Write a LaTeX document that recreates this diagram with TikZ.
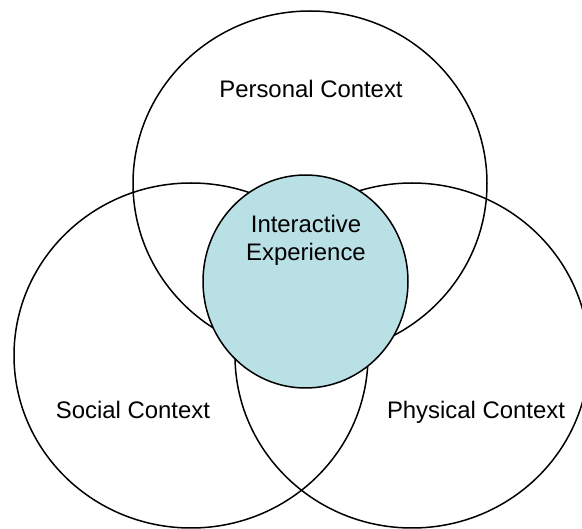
\documentclass[tikz,border=0pt]{standalone}
\usepackage{fontspec}
\setmainfont{Liberation Sans}
\usetikzlibrary{shapes.geometric}
\definecolor{tealfill}{RGB}{185,224,228}
\tikzset{
  ctx/.style={draw=black, line width=1.5pt, ellipse, inner sep=0pt, outer sep=0pt,
              minimum width=354pt, minimum height=345pt},
  core/.style={draw=black, line width=1.5pt, ellipse, inner sep=0pt, outer sep=0pt,
              fill=tealfill, minimum width=205pt, minimum height=213pt},
  lbl/.style={font=\fontsize{23.9}{27.3}\selectfont, inner sep=0pt, anchor=base},
}
\begin{document}
\begin{tikzpicture}[x=1pt,y=-1pt]
\useasboundingbox (0,0) rectangle (582,529);
\clip (0,0) rectangle (582,529);
\node[ctx] (personal) at (310,183.5) {};
\node[ctx] (social) at (191,355.5) {};
\node[ctx] (physical) at (412,355.5) {};
\node[core] (interactive) at (305.5,281.5) {};
\node[lbl] (tpersonal) at (311,97.5) {Personal Context};
\node[lbl] (tsocial) at (133,419) {Social Context};
\node[lbl] (tphysical) at (476,419) {Physical Context};
\node[lbl] (tinter1) at (306,233) {Interactive};
\node[lbl] (tinter2) at (306,260.3) {Experience};
\end{tikzpicture}
\end{document}
